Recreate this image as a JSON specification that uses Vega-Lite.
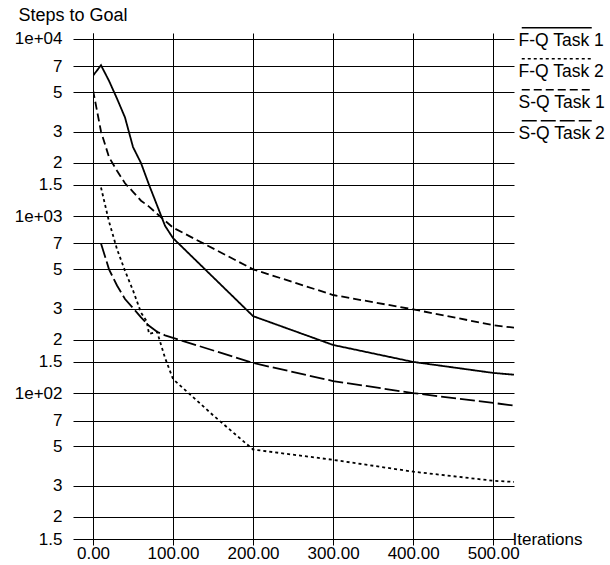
{
  "$schema": "https://vega.github.io/schema/vega-lite/v6.json",
  "width": 421,
  "height": 506,
  "autosize": "none",
  "padding": {"left": 93, "top": 33, "right": 96, "bottom": 26},
  "background": "white",
  "config": {
    "view": {"stroke": null},
    "font": "Liberation Sans",
    "axis": {"labelFont": "Liberation Sans", "titleFont": "Liberation Sans", "labelColor": "black", "titleColor": "black", "labelFontSize": 17, "titleFontSize": 17, "titleFontWeight": "normal", "gridColor": "#000", "gridOpacity": 1, "tickColor": "#000", "domainColor": "#000", "gridWidth": 1, "tickWidth": 1, "domainWidth": 1}
  },
  "data": {"values": [
    {"series": "F-Q Task 1", "x": 0, "y": 6200},
    {"series": "F-Q Task 1", "x": 10, "y": 7100},
    {"series": "F-Q Task 1", "x": 20, "y": 5800},
    {"series": "F-Q Task 1", "x": 30, "y": 4600},
    {"series": "F-Q Task 1", "x": 40, "y": 3600},
    {"series": "F-Q Task 1", "x": 50, "y": 2450},
    {"series": "F-Q Task 1", "x": 60, "y": 1990},
    {"series": "F-Q Task 1", "x": 70, "y": 1500},
    {"series": "F-Q Task 1", "x": 80, "y": 1150},
    {"series": "F-Q Task 1", "x": 90, "y": 880},
    {"series": "F-Q Task 1", "x": 100, "y": 750},
    {"series": "F-Q Task 1", "x": 200, "y": 272},
    {"series": "F-Q Task 1", "x": 300, "y": 187},
    {"series": "F-Q Task 1", "x": 400, "y": 150},
    {"series": "F-Q Task 1", "x": 500, "y": 130},
    {"series": "F-Q Task 1", "x": 526, "y": 127},
    {"series": "F-Q Task 2", "x": 10, "y": 1450},
    {"series": "F-Q Task 2", "x": 20, "y": 930},
    {"series": "F-Q Task 2", "x": 30, "y": 650},
    {"series": "F-Q Task 2", "x": 40, "y": 490},
    {"series": "F-Q Task 2", "x": 50, "y": 380},
    {"series": "F-Q Task 2", "x": 60, "y": 285},
    {"series": "F-Q Task 2", "x": 67, "y": 255},
    {"series": "F-Q Task 2", "x": 70, "y": 216},
    {"series": "F-Q Task 2", "x": 80, "y": 222},
    {"series": "F-Q Task 2", "x": 90, "y": 158},
    {"series": "F-Q Task 2", "x": 100, "y": 120},
    {"series": "F-Q Task 2", "x": 150, "y": 75},
    {"series": "F-Q Task 2", "x": 200, "y": 48},
    {"series": "F-Q Task 2", "x": 300, "y": 42},
    {"series": "F-Q Task 2", "x": 400, "y": 36},
    {"series": "F-Q Task 2", "x": 500, "y": 32},
    {"series": "F-Q Task 2", "x": 526, "y": 31.5},
    {"series": "S-Q Task 1", "x": 0, "y": 5150},
    {"series": "S-Q Task 1", "x": 10, "y": 3000},
    {"series": "S-Q Task 1", "x": 20, "y": 2150},
    {"series": "S-Q Task 1", "x": 30, "y": 1800},
    {"series": "S-Q Task 1", "x": 40, "y": 1530},
    {"series": "S-Q Task 1", "x": 50, "y": 1370},
    {"series": "S-Q Task 1", "x": 60, "y": 1220},
    {"series": "S-Q Task 1", "x": 70, "y": 1130},
    {"series": "S-Q Task 1", "x": 80, "y": 1030},
    {"series": "S-Q Task 1", "x": 90, "y": 940},
    {"series": "S-Q Task 1", "x": 100, "y": 860},
    {"series": "S-Q Task 1", "x": 200, "y": 500},
    {"series": "S-Q Task 1", "x": 300, "y": 358},
    {"series": "S-Q Task 1", "x": 400, "y": 297},
    {"series": "S-Q Task 1", "x": 500, "y": 242},
    {"series": "S-Q Task 1", "x": 526, "y": 234},
    {"series": "S-Q Task 2", "x": 10, "y": 700},
    {"series": "S-Q Task 2", "x": 20, "y": 500},
    {"series": "S-Q Task 2", "x": 30, "y": 405},
    {"series": "S-Q Task 2", "x": 40, "y": 340},
    {"series": "S-Q Task 2", "x": 50, "y": 302},
    {"series": "S-Q Task 2", "x": 60, "y": 268},
    {"series": "S-Q Task 2", "x": 70, "y": 240},
    {"series": "S-Q Task 2", "x": 80, "y": 222},
    {"series": "S-Q Task 2", "x": 90, "y": 212},
    {"series": "S-Q Task 2", "x": 100, "y": 205},
    {"series": "S-Q Task 2", "x": 200, "y": 148},
    {"series": "S-Q Task 2", "x": 300, "y": 117},
    {"series": "S-Q Task 2", "x": 400, "y": 100},
    {"series": "S-Q Task 2", "x": 500, "y": 88},
    {"series": "S-Q Task 2", "x": 526, "y": 85}
  ]},
  "mark": {"type": "line", "color": "black", "strokeWidth": 1.8, "clip": true},
  "encoding": {
    "x": {
      "field": "x", "type": "quantitative",
      "scale": {"domain": [0, 526], "nice": false, "zero": false},
      "axis": {
        "values": [0, 100, 200, 300, 400, 500],
        "format": ".2f",
        "grid": true,
        "tickSize": 6,
        "labelPadding": 0,
        "labelDx": -4,
        "labelFlush": false,
        "title": "Iterations",
        "titleFontSize": 17,
        "titleAnchor": "start",
        "titleAlign": "left",
        "titleBaseline": "alphabetic",
        "titleX": 419,
        "titleY": 5
      }
    },
    "y": {
      "field": "y", "type": "quantitative",
      "scale": {"type": "log", "domain": [15, 10800], "nice": false},
      "axis": {
        "values": [15, 20, 30, 50, 70, 100, 150, 200, 300, 500, 700, 1000, 1500, 2000, 3000, 5000, 7000, 10000],
        "labelExpr": "datum.value == 10000 ? '1e+04' : datum.value == 1000 ? '1e+03' : datum.value == 100 ? '1e+02' : '' + (datum.value / pow(10, floor(log(datum.value) / LN10 + 1e-9)))",
        "grid": true,
        "tickSize": 20,
        "labelPadding": 11,
        "labelFlush": false,
        "labelOverlap": false,
        "title": "Steps to Goal",
        "titleFontSize": 18,
        "titleLimit": 300,
        "titleAngle": 0,
        "titleAlign": "left",
        "titleBaseline": "middle",
        "titleX": -75,
        "titleY": -18
      }
    },
    "strokeDash": {
      "field": "series", "type": "nominal",
      "scale": {"domain": ["F-Q Task 1", "F-Q Task 2", "S-Q Task 1", "S-Q Task 2"], "range": [[1, 0], [3, 3], [8, 4], [15, 4]]},
      "legend": {
        "orient": "none",
        "legendX": 420,
        "legendY": -14,
        "title": null,
        "symbolType": "M0,0H14",
        "symbolSize": 100,
        "symbolStrokeWidth": 1.5,
        "symbolStrokeColor": "black",
        "labelOffset": -12,
        "labelBaseline": "middle",
        "labelFont": "Liberation Sans",
        "labelFontSize": 17.5,
        "labelLimit": 200,
        "labelColor": "black",
        "rowPadding": -8,
        "encode": {"labels": {"update": {"dy": {"value": 13}}}}
      }
    }
  }
}
